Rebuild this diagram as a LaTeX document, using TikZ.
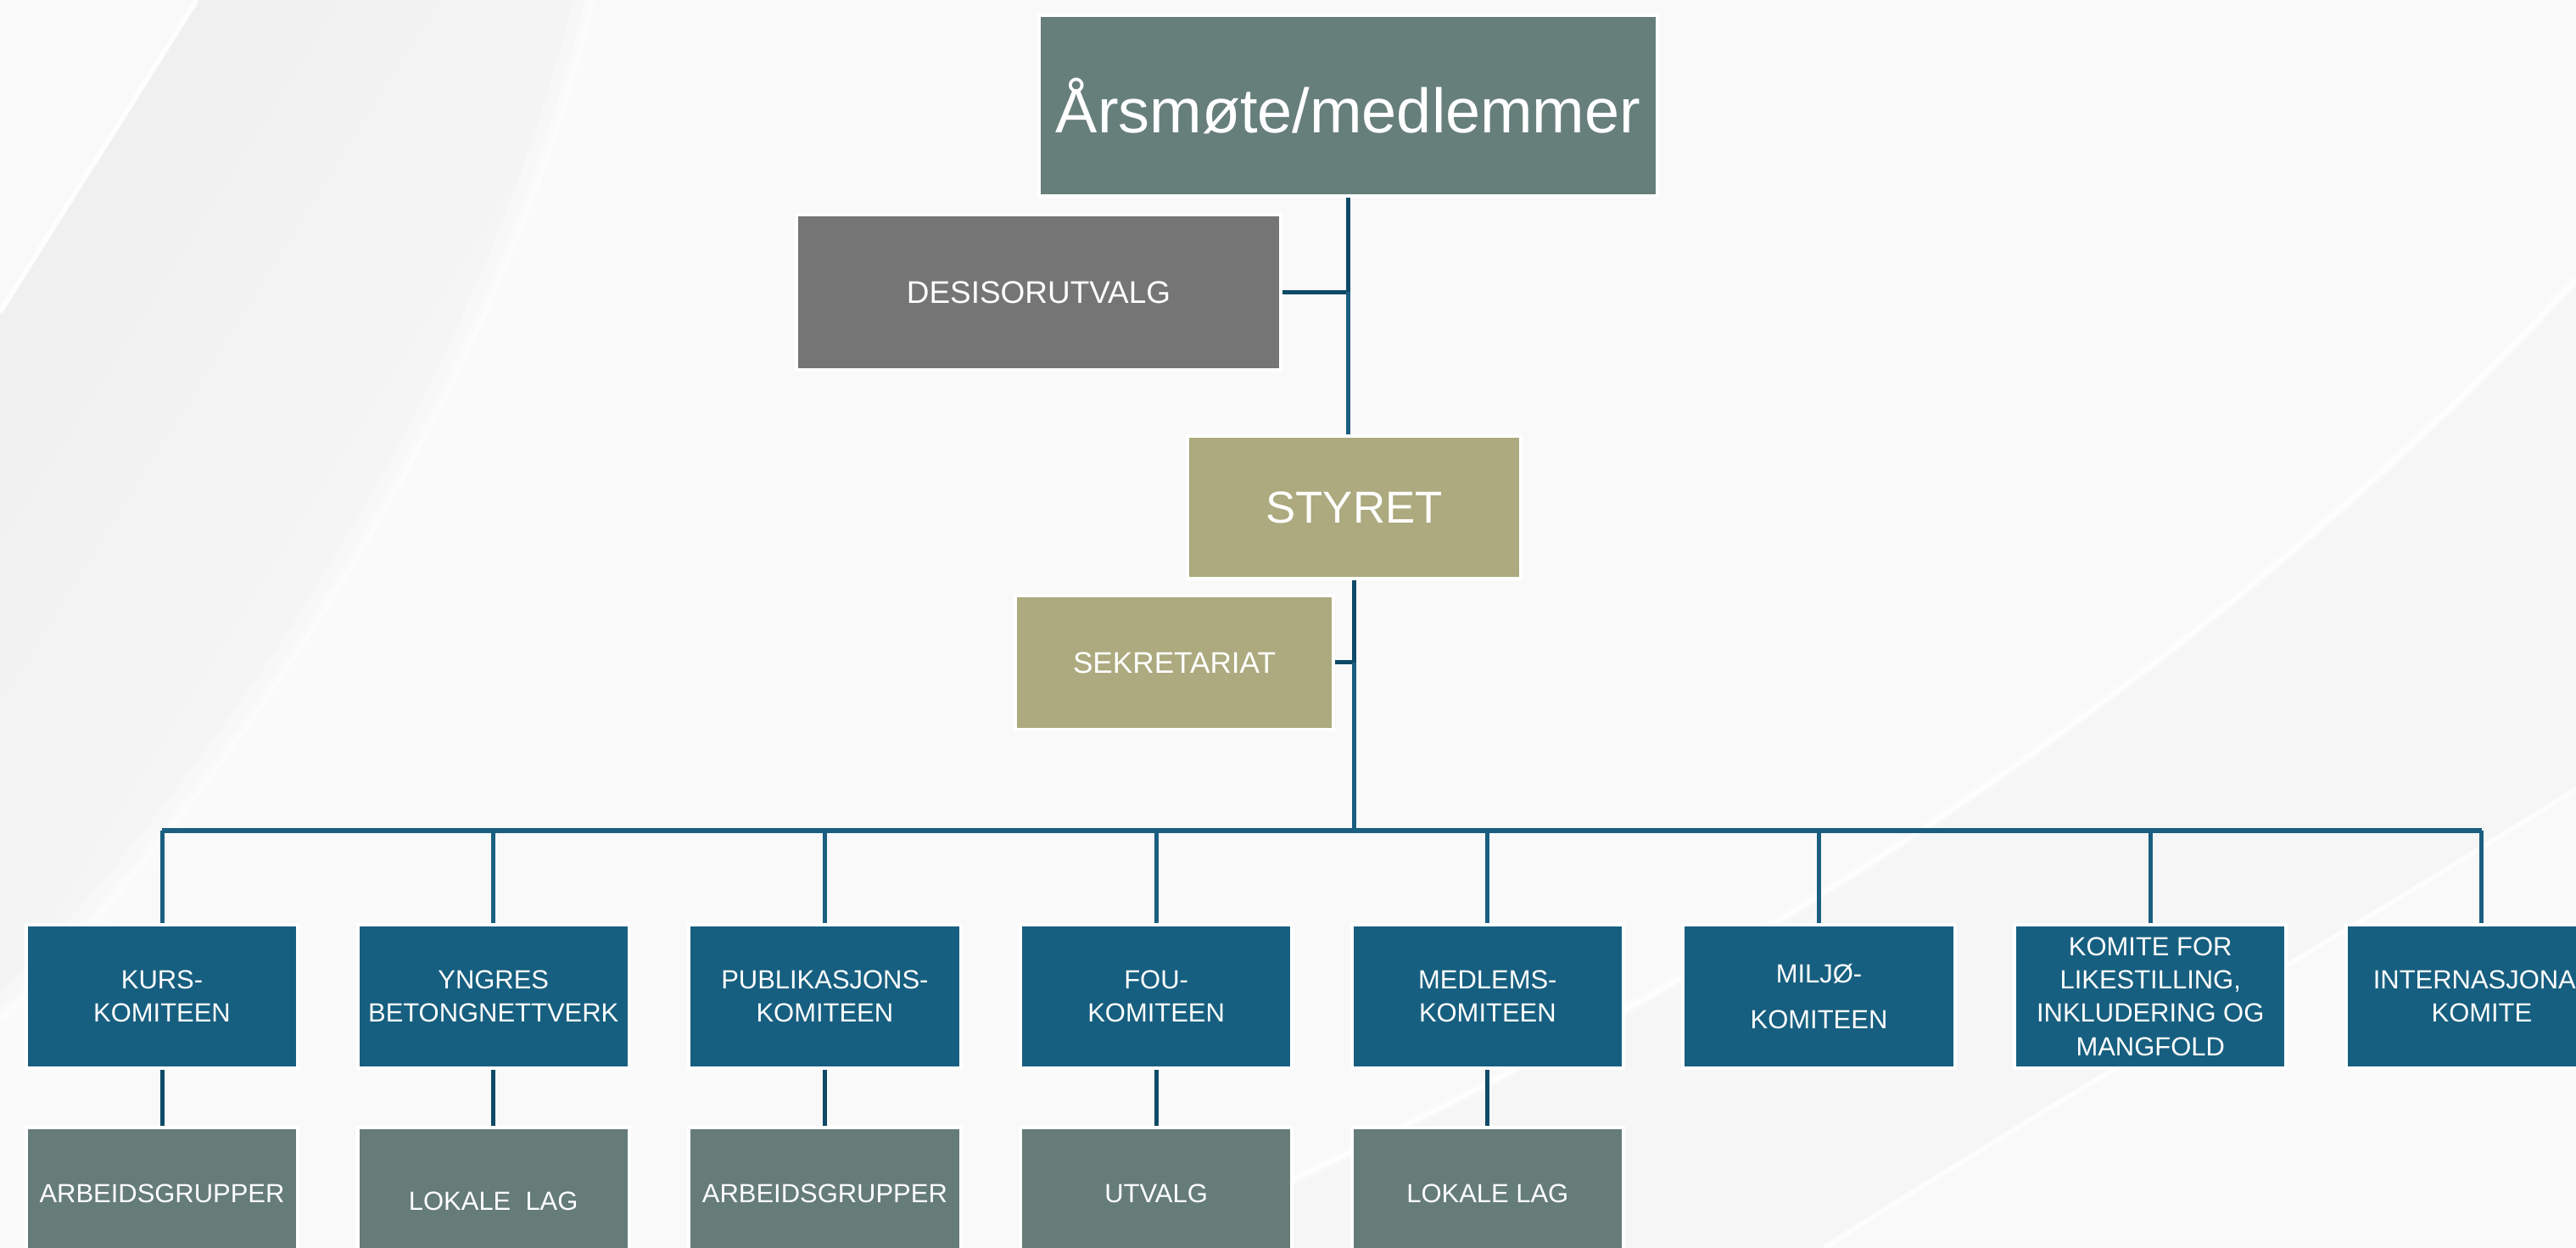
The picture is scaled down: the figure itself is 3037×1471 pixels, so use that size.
\documentclass[tikz,border=0pt]{standalone}
\usepackage{fontspec}
\setmainfont{Liberation Sans}
\usetikzlibrary{calc}
\definecolor{bgc}{HTML}{F9F9F9}
\definecolor{arsc}{HTML}{677F7B}
\definecolor{desc}{HTML}{757575}
\definecolor{olive}{HTML}{ACAA7E}
\definecolor{komc}{HTML}{175F80}
\definecolor{botc}{HTML}{657C79}
\definecolor{linedark}{HTML}{0F4A66}
\definecolor{linec}{HTML}{1A5F80}
\tikzset{
  orgbox/.style={rectangle, draw=white, line width=0.04cm, text=white, align=center, inner sep=0pt},
  komite/.style={orgbox, fill=komc, minimum width=3.20cm, minimum height=1.69cm, font=\fontsize{8.8}{11.2}\selectfont},
  underbox/.style={orgbox, fill=botc, minimum width=3.20cm, minimum height=1.56cm, font=\fontsize{8.8}{11.2}\selectfont},
  conn/.style={draw=linec, line width=0.05cm},
  conndark/.style={draw=linedark, line width=0.05cm},
}
\begin{document}
\begin{tikzpicture}[x=0.01cm,y=-0.01cm]
\useasboundingbox (0,0) rectangle (3037,1471);
\clip (0,0) rectangle (3037,1471);
% background
\fill[bgc] (0,0) rectangle (3037,1471);
\shade[shading=axis, top color=black!6, bottom color=bgc, shading angle=58]
  (232,0) -- (695,0) .. controls (600,420) and (300,900) .. (0,1200) -- (0,368) -- cycle;
\draw[white, line width=0.06cm, opacity=0.9] (232,0) -- (0,368);
\draw[white, line width=0.4cm, opacity=0.3] (695,0) .. controls (600,420) and (300,900) .. (0,1200);
\draw[white, line width=0.12cm, opacity=0.4] (695,0) .. controls (600,420) and (300,900) .. (0,1200);
\fill[black!3.5] (1350,1471) .. controls (1750,1290) and (2450,960) .. (3037,330) -- (3037,1471) -- cycle;
\fill[black!2.5] (2150,1471) .. controls (2500,1250) and (2800,1080) .. (3037,930) -- (3037,1471) -- cycle;
\draw[white, line width=0.12cm, opacity=0.4] (1350,1471) .. controls (1750,1290) and (2450,960) .. (3037,330);
\draw[white, line width=0.05cm, opacity=0.9] (1350,1471) .. controls (1750,1290) and (2450,960) .. (3037,330);
\draw[white, line width=0.06cm, opacity=0.8] (2150,1471) .. controls (2500,1250) and (2800,1080) .. (3037,930);

% upper nodes
\node[orgbox, fill=arsc, minimum width=7.29cm, minimum height=2.13cm, font=\fontsize{21}{25}\selectfont]
  (ars) at (1589.5,124.5) {Årsmøte/medlemmer};
\node[orgbox, fill=desc, minimum width=5.71cm, minimum height=1.83cm, font=\fontsize{10.5}{13}\selectfont]
  (des) at (1224.5,344.5) {DESISORUTVALG};
\node[orgbox, fill=olive, minimum width=3.93cm, minimum height=1.68cm, font=\fontsize{15}{18}\selectfont]
  (sty) at (1596.5,598) {STYRET};
\node[orgbox, fill=olive, minimum width=3.75cm, minimum height=1.58cm, font=\fontsize{10}{12}\selectfont]
  (sek) at (1384.5,781) {SEKRETARIAT};

% committees
\node[komite] (c1) at (191,1174.5) {KURS-\\KOMITEEN};
\node[komite] (c2) at (581.7,1174.5) {YNGRES\\BETONGNETTVERK};
\node[komite] (c3) at (972.4,1174.5) {PUBLIKASJONS-\\KOMITEEN};
\node[komite] (c4) at (1363.1,1174.5) {FOU-\\KOMITEEN};
\node[komite] (c5) at (1753.8,1174.5) {MEDLEMS-\\KOMITEEN};
\node[komite] (c6) at (2144.5,1174.5) {MILJØ-\\[4.2pt]KOMITEEN};
\node[komite] (c7) at (2535.2,1174.5) {KOMITE FOR\\LIKESTILLING,\\INKLUDERING OG\\MANGFOLD};
\node[komite] (c8) at (2925.9,1174.5) {INTERNASJONAL\\KOMITE};

% sub units
\node[underbox] (b1) at (191,1407) {ARBEIDSGRUPPER};
\node[underbox, minimum height=1.74cm] (b2) at (581.7,1416) {LOKALE\ \ LAG};
\node[underbox] (b3) at (972.4,1407) {ARBEIDSGRUPPER};
\node[underbox] (b4) at (1363.1,1407) {UTVALG};
\node[underbox] (b5) at (1753.8,1407) {LOKALE LAG};

% connectors
\coordinate (busy) at (0,979);
\coordinate (j1) at (ars.south |- des.east);
\draw[conndark] (ars.south) -- (j1);
\draw[conndark] (des.east) -- (j1);
\draw[conn] (j1) -- (j1 |- sty.north);
\draw[conndark] (sty.south) -- (sty.south |- sek.east);
\draw[conndark] (sek.east) -- (sty.south |- sek.east);
\draw[conn] (sty.south |- sek.east) -- (sty.south |- busy);
\draw[conn] (c1.north |- busy) -- (c8.north |- busy);
\foreach \i in {1,...,8} {
  \draw[conn] (c\i.north |- busy) -- (c\i.north);
}
\foreach \i in {1,...,5} {
  \draw[conndark] (c\i.south) -- (b\i.north);
}
\end{tikzpicture}
\end{document}
